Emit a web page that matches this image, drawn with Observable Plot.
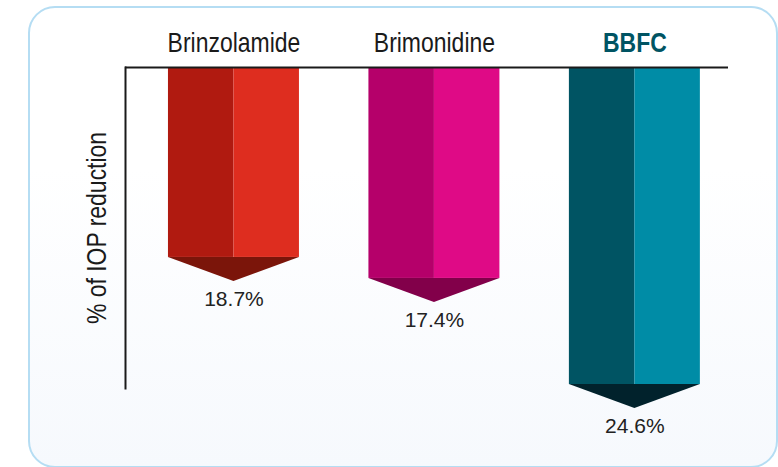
<!DOCTYPE html>
<html>
<head>
<meta charset="utf-8">
<script src="https://cdn.jsdelivr.net/npm/d3@7"></script>
<script src="https://cdn.jsdelivr.net/npm/@observablehq/plot@0.6"></script>
<style>
  html, body { margin: 0; padding: 0; background: #ffffff; }
  #wrap { position: relative; width: 778px; height: 467px; overflow: hidden; }
  #box {
    position: absolute; left: 28px; top: 6px; width: 746px; height: 458px;
    border: 2.5px solid #b5ddf3; border-radius: 27px;
    background: linear-gradient(to bottom, #ffffff 0%, #ffffff 35%, #f6f9fd 100%);
  }
  #chart { position: absolute; left: 0; top: 0; }
</style>
</head>
<body>
<div id="wrap"><div id="box"></div><div id="chart"></div></div>
<script>
// ---- data ----
const categories = ["Brinzolamide", "Brimonidine", "BBFC"];
const reductionLabels = ["18.7%", "17.4%", "24.6%"];
const reductionValues = [18.7, 17.4, 24.6];
// bar depth as drawn in the reference (same % units, BBFC = 24.6)
const drawnDepth = [14.74, 16.37, 24.6];
const darkColors = ["#b01a10", "#b5006a", "#005463"];
const lightColors = ["#de2d1f", "#df0a86", "#008ca6"];
const tipColors = ["#7b150a", "#82004a", "#01222c"];
const yAxisLabel = "% of IOP reduction";

const HW = 0.3267;      // half bar width (x units)
const TIP = 1.86;       // arrow tip depth (y units)
const narrow = "Liberation Sans, Arial, sans-serif";          // condensed below via scaleX
const regular = "'Liberation Sans', Arial, sans-serif";

const bars = categories.map((c, i) => ({
  cat: c, i, depth: drawnDepth[i], value: reductionValues[i], label: reductionLabels[i]
}));
const halves = bars.flatMap(b => [
  {x1: b.i - HW, x2: b.i, depth: b.depth, color: darkColors[b.i]},
  {x1: b.i, x2: b.i + HW, depth: b.depth, color: lightColors[b.i]}
]);
const tips = bars.flatMap(b => [
  {cat: b.cat, x: b.i - HW, y1: b.depth, y2: b.depth, color: tipColors[b.i]},
  {cat: b.cat, x: b.i, y1: b.depth, y2: b.depth + TIP, color: tipColors[b.i]},
  {cat: b.cat, x: b.i + HW, y1: b.depth, y2: b.depth, color: tipColors[b.i]}
]);

const chart = Plot.plot({
  width: 778,
  height: 467,
  marginLeft: 125,
  marginRight: 50,
  marginTop: 67,
  marginBottom: 79,
  style: {background: "transparent", overflow: "visible"},
  x: {domain: [-0.541, 2.467], axis: null},
  y: {domain: [0, 30], range: [67, 67 + 30 * 12.886], axis: null},
  color: {type: "identity"},
  marks: [
    Plot.rect(halves, {x1: "x1", x2: "x2", y1: () => 0, y2: "depth", fill: "color"}),
    Plot.areaY(tips, {x: "x", y1: "y1", y2: "y2", z: "cat", fill: "color"}),
    Plot.ruleY([0], {stroke: "#1a1a1a", strokeWidth: 2}),
    Plot.frame({anchor: "left", stroke: "#1a1a1a", strokeWidth: 2}),
    Plot.text(bars.filter(b => b.i < 2), {x: "i", text: "cat", frameAnchor: "top", lineAnchor: "middle", dy: -24,
      fontSize: 28, fontFamily: narrow, fill: "#1a1a1a"}),
    Plot.text(bars.filter(b => b.i === 2), {x: "i", text: "cat", frameAnchor: "top", lineAnchor: "middle", dy: -24,
      fontSize: 28, fontFamily: narrow, fontWeight: "bold", fill: darkColors[2]}),
    Plot.text(bars, {x: "i", y: d => d.depth + TIP, text: "label", lineAnchor: "middle", dy: 18,
      fontSize: 21, fontFamily: regular, fill: "#222222"}),
    Plot.text([yAxisLabel], {frameAnchor: "left", textAnchor: "middle", lineAnchor: "middle", dx: -28, rotate: -90,
      fontSize: 28, fontFamily: narrow, fill: "#1a1a1a"})
  ]
});
// condense the heading-style texts horizontally (narrow typeface look)
chart.querySelectorAll(`g[font-family="${narrow}"] text`).forEach(t => {
  const tr = t.getAttribute("transform") || "";
  t.setAttribute("transform", tr + " scale(0.82,1)");
});
document.getElementById("chart").appendChild(chart);
</script>
</body>
</html>
